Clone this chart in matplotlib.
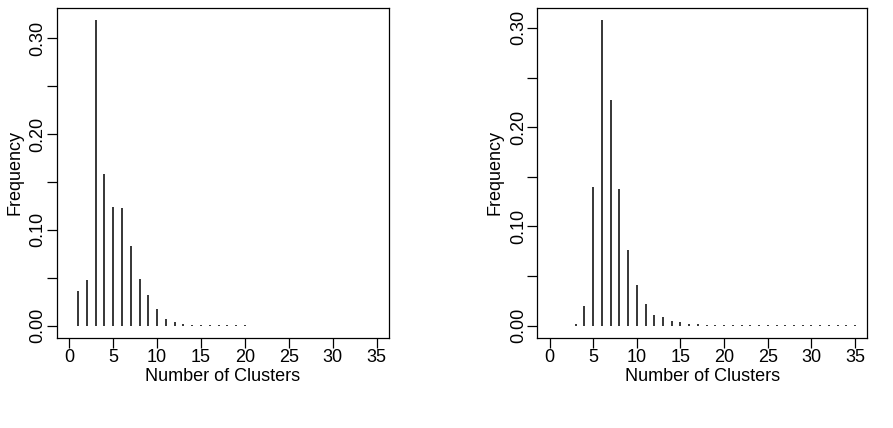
import matplotlib
matplotlib.use("Agg")
import matplotlib.pyplot as plt
import numpy as np

plt.rcParams['font.family'] = ['Liberation Sans', 'DejaVu Sans']

# Left panel
left_clusters = list(range(1, 21))
left_freq = [0.036, 0.048, 0.319, 0.158, 0.124, 0.123, 0.083, 0.049, 0.032, 0.017,
             0.007, 0.004, 0.0015, 0.001, 0.0008, 0.0006, 0.0005, 0.0004, 0.0003, 0.0003]

# Right panel
right_clusters = list(range(3, 36))
right_freq = [0.0015, 0.020, 0.140, 0.308, 0.227, 0.138, 0.076, 0.041, 0.022, 0.011,
              0.009, 0.0045, 0.0035, 0.002, 0.0015, 0.0012, 0.001, 0.001, 0.0009, 0.0008,
              0.0008, 0.0007, 0.0007, 0.0006, 0.0006, 0.0006, 0.0005, 0.0005, 0.0005, 0.0005,
              0.0005, 0.0005, 0.0005]

x_ticks = [0, 5, 10, 15, 20, 25, 30, 35]
y_ticks = [0.00, 0.05, 0.10, 0.15, 0.20, 0.25, 0.30]
y_labels = ["0.00", "", "0.10", "", "0.20", "", "0.30"]

fig = plt.figure(figsize=(8.93, 4.28), dpi=100)
ax1 = fig.add_axes([57/893, 1-338/428, 332/893, 330.3/428])
ax2 = fig.add_axes([537.3/893, 1-338/428, 330/893, 330.3/428])

for ax, xs, ys in [(ax1, left_clusters, left_freq), (ax2, right_clusters, right_freq)]:
    ax.vlines(xs, 0, ys, colors='black', linewidth=1.1)
    top = max(ys)
    ax.set_ylim(-0.04*top, top*1.04)
    ax.set_xlim(-1.4, 36.4)
    ax.set_xticks(x_ticks)
    ax.set_xticklabels([str(t) for t in x_ticks], fontsize=13)
    ax.set_yticks(y_ticks)
    ax.set_yticklabels(y_labels, fontsize=13, rotation=90, va='center')
    ax.tick_params(direction='out', length=7, width=0.9)
    ax.tick_params(axis='x', pad=1)
    ax.tick_params(axis='y', pad=0.5)
    ax.set_xlabel("Number of Clusters", fontsize=13, labelpad=1.5)
    ax.set_ylabel("Frequency", fontsize=13, labelpad=4.5)
    for s in ax.spines.values():
        s.set_linewidth(0.9)

fig.savefig("out.png", dpi=100)
